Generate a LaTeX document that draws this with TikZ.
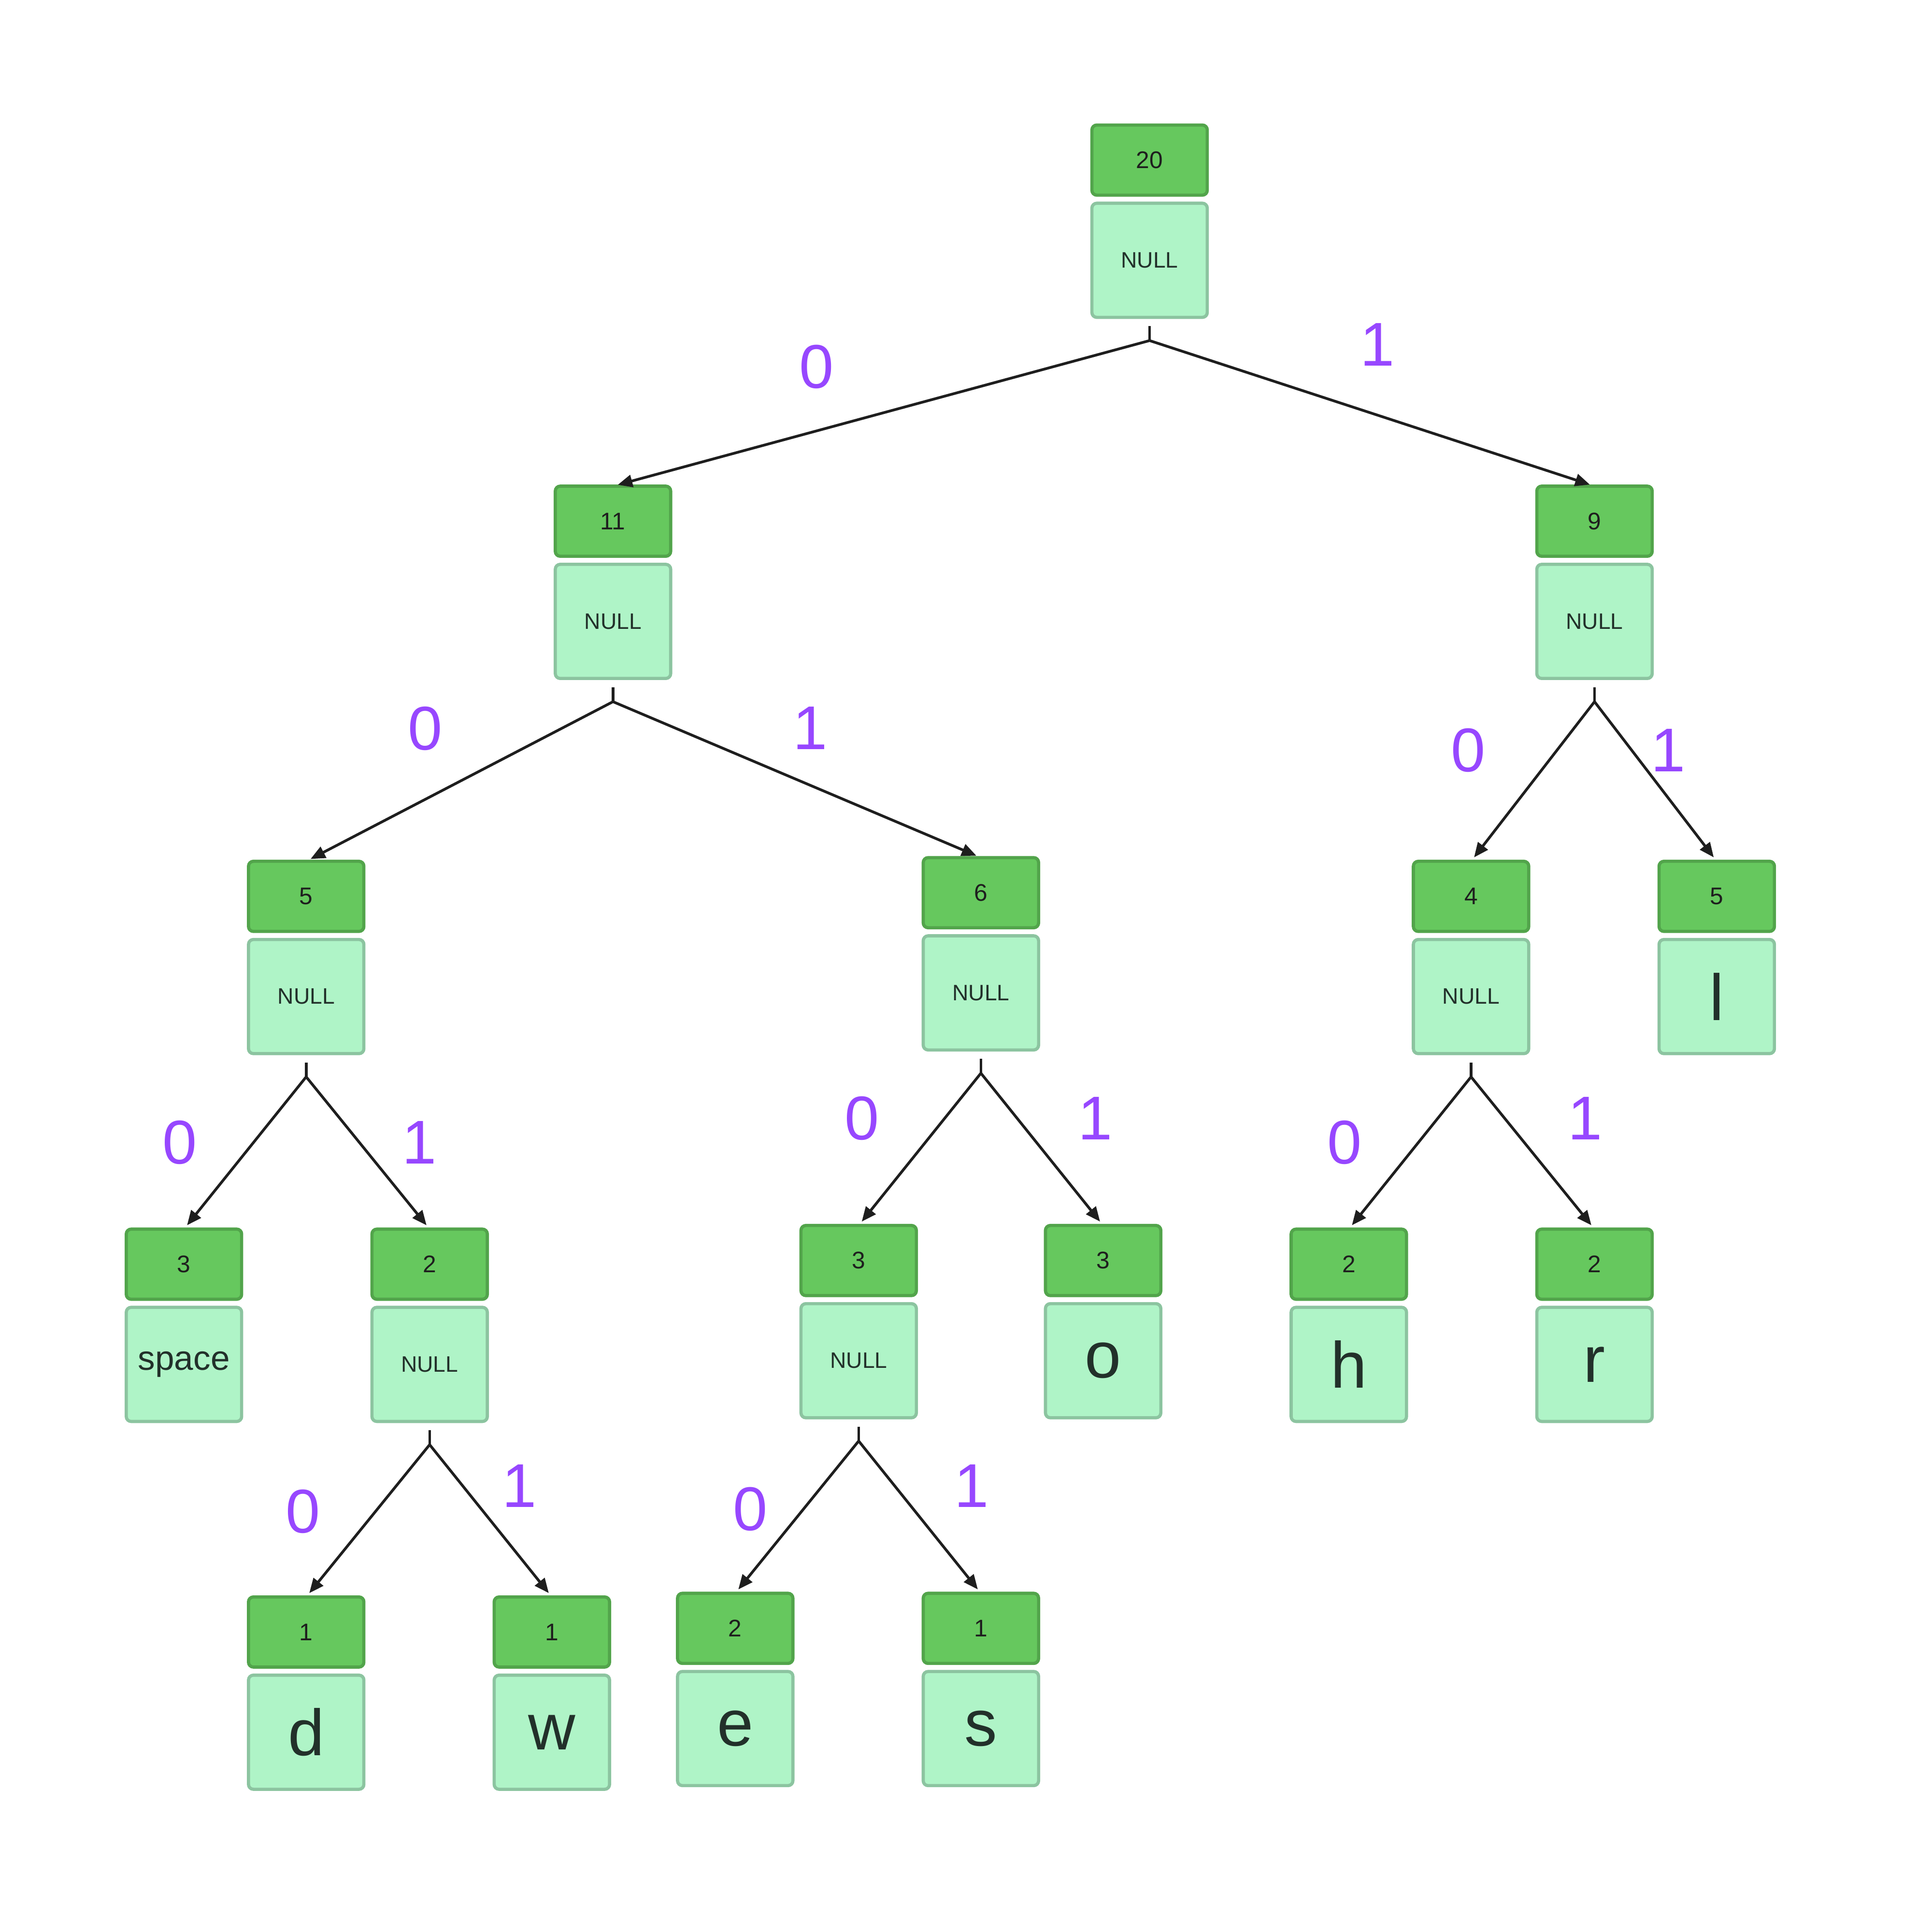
\documentclass[tikz,border=0pt]{standalone}
\usepackage{fontspec}
\setmainfont{Liberation Sans}
\usepackage{tikz}
\usetikzlibrary{arrows.meta}
\usetikzlibrary{positioning}
\usetikzlibrary{calc}
\definecolor{wfill}{HTML}{66C85E}
\definecolor{wline}{HTML}{52A44B}
\definecolor{cfill}{HTML}{AFF4C7}
\definecolor{cline}{HTML}{8CC4A0}
\definecolor{ink}{HTML}{1E1E1E}
\definecolor{chink}{HTML}{22302A}
\definecolor{bitc}{HTML}{9747FF}

\begin{document}
\begin{tikzpicture}[x=0.25mm,y=-0.25mm,
  wt/.style={draw=wline,fill=wfill,line width=0.65mm,rounded corners=1mm,minimum width=23.6mm,minimum height=14.35mm,inner sep=0pt,outer sep=0pt,text=ink,font=\fontsize{14}{16}\selectfont},
  ch/.style={draw=cline,fill=cfill,line width=0.65mm,rounded corners=1mm,minimum width=23.6mm,minimum height=23.35mm,inner sep=0pt,outer sep=0pt,text=chink,font=\fontsize{13}{15}\selectfont},
  big/.style={font=\fontsize{38}{40}\selectfont},
  bit/.style={text=bitc,font=\fontsize{36}{40}\selectfont},
  stub/.style={draw=ink,line width=0.55mm,shorten <=1.8mm},
  link/.style={draw=ink,line width=0.55mm,-{Triangle[length=3mm,width=2.5mm]},shorten >=1mm}]
\useasboundingbox (0,0) rectangle (1568,1581);

% root
\node[wt] (wR) at (940.5,131) {20};
\node[ch,below=1.65mm of wR] (cR) {NULL};
\coordinate (jR) at ($(cR.south)+(0,19)$);

% level 1
\node[wt] (w0) at (501.5,426.5) {11};
\node[ch,below=1.65mm of w0] (c0) {NULL};
\coordinate (j0) at ($(c0.south)+(0,19)$);
\node[wt] (w1) at (1304.5,426.5) {9};
\node[ch,below=1.65mm of w1] (c1) {NULL};
\coordinate (j1) at ($(c1.south)+(0,19)$);

% level 2
\node[wt] (w00) at (250.5,733.5) {5};
\node[ch,below=1.65mm of w00] (c00) {NULL};
\coordinate (j00) at ($(c00.south)+(0,19)$);
\node[wt] (w01) at (802.5,730.5) {6};
\node[ch,below=1.65mm of w01] (c01) {NULL};
\coordinate (j01) at ($(c01.south)+(0,19)$);
\node[wt] (w10) at (1203.5,733.5) {4};
\node[ch,below=1.65mm of w10] (c10) {NULL};
\coordinate (j10) at ($(c10.south)+(0,19)$);
\node[wt] (w11) at (1404.5,733.5) {5};
\node[ch,big,below=1.65mm of w11] (c11) {l};

% level 3
\node[wt] (w000) at (150.5,1034.5) {3};
\node[ch,below=1.65mm of w000,font=\fontsize{20}{22}\selectfont] (c000) {space};
\node[wt] (w001) at (351.5,1034.5) {2};
\node[ch,below=1.65mm of w001] (c001) {NULL};
\coordinate (j001) at ($(c001.south)+(0,19)$);
\node[wt] (w010) at (702.5,1031.5) {3};
\node[ch,below=1.65mm of w010] (c010) {NULL};
\coordinate (j010) at ($(c010.south)+(0,19)$);
\node[wt] (w011) at (902.5,1031.5) {3};
\node[ch,big,below=1.65mm of w011] (c011) {o};
\node[wt] (w100) at (1103.5,1034.5) {2};
\node[ch,big,below=1.65mm of w100] (c100) {h};
\node[wt] (w101) at (1304.5,1034.5) {2};
\node[ch,big,below=1.65mm of w101] (c101) {r};

% level 4
\node[wt] (w0010) at (250.5,1335.5) {1};
\node[ch,big,below=1.65mm of w0010] (c0010) {d};
\node[wt] (w0011) at (451.5,1335.5) {1};
\node[ch,big,below=1.65mm of w0011] (c0011) {w};
\node[wt] (w0100) at (601.5,1332.5) {2};
\node[ch,big,below=1.65mm of w0100] (c0100) {e};
\node[wt] (w0101) at (802.5,1332.5) {1};
\node[ch,big,below=1.65mm of w0101] (c0101) {s};

% branches
\draw[stub] (cR.south) -- (jR);
\draw[link] (jR) -- (w0.north);
\draw[link] (jR) -- (w1.north);
\draw[stub] (c0.south) -- (j0);
\draw[link] (j0) -- (w00.north);
\draw[link] (j0) -- (w01.north);
\draw[stub] (c1.south) -- (j1);
\draw[link] (j1) -- (w10.north);
\draw[link] (j1) -- (w11.north);
\draw[stub] (c00.south) -- (j00);
\draw[link] (j00) -- (w000.north);
\draw[link] (j00) -- (w001.north);
\draw[stub] (c01.south) -- (j01);
\draw[link] (j01) -- (w010.north);
\draw[link] (j01) -- (w011.north);
\draw[stub] (c10.south) -- (j10);
\draw[link] (j10) -- (w100.north);
\draw[link] (j10) -- (w101.north);
\draw[stub] (c001.south) -- (j001);
\draw[link] (j001) -- (w0010.north);
\draw[link] (j001) -- (w0011.north);
\draw[stub] (c010.south) -- (j010);
\draw[link] (j010) -- (w0100.north);
\draw[link] (j010) -- (w0101.north);

% bit labels
\node[bit] (bR0) at (668,300) {0};
\node[bit] (bR1) at (1127,282) {1};
\node[bit] (b00) at (348,596) {0};
\node[bit] (b01) at (663,596) {1};
\node[bit] (b10) at (1201,614) {0};
\node[bit] (b11) at (1365,614) {1};
\node[bit] (b000) at (147,935) {0};
\node[bit] (b001) at (343,935) {1};
\node[bit] (b010) at (705,915) {0};
\node[bit] (b011) at (896,915) {1};
\node[bit] (b100) at (1100,935) {0};
\node[bit] (b101) at (1297,915) {1};
\node[bit] (b0010) at (248,1237) {0};
\node[bit] (b0011) at (425,1216) {1};
\node[bit] (b0100) at (614,1235) {0};
\node[bit] (b0101) at (795,1216) {1};
\end{tikzpicture}
\end{document}
